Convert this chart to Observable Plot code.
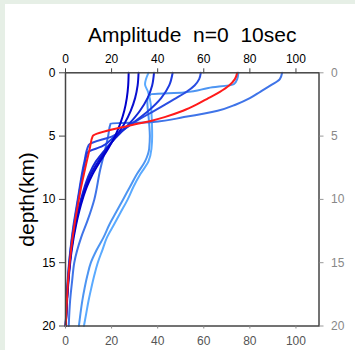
<!DOCTYPE html>
<html>
<head>
<meta charset="utf-8">
<script src="https://cdn.jsdelivr.net/npm/d3@7"></script>
<script src="https://cdn.jsdelivr.net/npm/@observablehq/plot@0.6"></script>
<style>
  html, body { margin: 0; padding: 0; background: #e6efe6; width: 355px; height: 350px; overflow: hidden; }
  #panel { position: absolute; left: 5px; top: 4px; width: 350px; height: 346px; background: #fff; }
  #panel svg { overflow: visible; }
</style>
</head>
<body>
<div id="panel"></div>
<script>
// ---- data (amplitude vs depth in km) ----
const titleText = "Amplitude  n=0  10sec";
const yLabel = "depth(km)";
const xTicks = [0, 20, 40, 60, 80, 100];
const yTicks = [0, 5, 10, 15, 20];

const dark1Depth = [0, 1, 2, 3, 4, 5, 6, 7, 8, 9, 10, 12, 14, 16, 18, 20];
const dark1Amp   = [27.4, 27.2, 26.6, 25.5, 23.8, 21.5, 18.5, 15, 11.8, 9.3, 7.4, 4.6, 2.7, 1.5, 0.7, 0.1];

const dark2Depth = [0, 1, 2, 3, 4, 5, 6, 7, 8, 9, 10, 12, 14, 16, 18, 20];
const dark2Amp   = [31.7, 31.3, 30.2, 28.3, 25.6, 22, 18, 14.2, 11, 8.8, 7, 4.3, 2.5, 1.4, 0.6, 0.1];

const blue3Depth = [0, 1, 2, 3, 4, 5, 6, 7, 8, 9, 10, 12, 14, 16, 18, 20];
const blue3Amp   = [38.4, 37.6, 35.6, 32.3, 27.8, 22.5, 17.5, 13.2, 10.3, 8.3, 6.7, 4.1, 2.4, 1.3, 0.6, 0.1];

const blue4Depth = [0, 1, 2, 3, 4, 5, 5.8, 6.3, 7, 8, 9, 10, 12, 14, 16, 18, 20];
const blue4Amp   = [46.5, 45, 41.5, 36, 29, 21.5, 16, 9.5, 8.5, 7.4, 6.4, 5.5, 3.7, 2.2, 1.2, 0.5, 0.1];

const blue5Depth = [0, 0.5, 1, 1.5, 2, 3, 4, 5, 5.7, 7, 8, 9, 10, 12, 14, 16, 18, 20];
const blue5Amp   = [58.7, 58, 56, 52.5, 48, 38.5, 29, 20.5, 10.1, 8.2, 7.1, 6.2, 5.3, 3.5, 2.1, 1.1, 0.5, 0.1];

const redDepth = [0, 0.5, 1, 1.5, 2, 2.5, 3, 3.5, 3.8, 4.2, 5, 6, 7, 8, 9.3, 10, 12, 14, 16, 18, 20];
const redAmp   = [74.5, 73.5, 71, 67, 62, 57, 51, 43, 37, 27, 11.8, 10.5, 9.2, 8, 6.5, 5.8, 3.9, 2.4, 1.3, 0.6, 0.1];

const midDepth = [0, 0.5, 1, 1.5, 2, 2.5, 3, 3.5, 3.9, 4.0, 5, 5.9, 7.7, 10, 11.7, 13, 15, 16.4, 18, 20];
const midAmp   = [94, 93, 89, 84.5, 80, 74, 66, 51.4, 37, 19.6, 18.5, 17.4, 15, 12.5, 9.5, 6.8, 3.8, 2.9, 2, 1.4];

const light1Depth = [0, 0.9, 1.5, 2.5, 4, 5, 6, 7, 8, 9, 10, 11, 12, 13, 14, 15, 16, 17, 18, 19, 20];
const light1Amp   = [36, 34.5, 35.8, 37, 37.5, 37.6, 37.3, 36, 32.5, 29.5, 27, 24, 21, 18, 16, 14, 12.5, 11.2, 10, 9, 8];

const light2Depth = [0, 0.5, 0.9, 1.2, 1.55, 1.7, 2.2, 4, 5, 6, 7, 8, 9, 10, 11, 12, 13, 14, 15, 16, 17, 18, 19, 20];
const light2Amp   = [75, 74.5, 73, 62, 51.4, 37, 35.5, 36.3, 36.6, 36.3, 34.5, 31, 28, 25, 22, 19, 16.5, 13.5, 11, 9.5, 8.3, 7.3, 6.5, 5.8];

const curveNames  = ["light2", "light1", "mid", "blue5", "blue4", "blue3", "dark2", "dark1", "red"];
const curveColors = ["#4d95f2", "#5aaaff", "#3f74e8", "#2a4ee2", "#1e3ce0", "#1428d8", "#0a10d0", "#0000cc", "#ff1a1a"];
const curveDepths = [light2Depth, light1Depth, midDepth, blue5Depth, blue4Depth, blue3Depth, dark2Depth, dark1Depth, redDepth];
const curveAmps   = [light2Amp, light1Amp, midAmp, blue5Amp, blue4Amp, blue3Amp, dark2Amp, dark1Amp, redAmp];

// build tidy rows
const rows = [];
curveNames.forEach((name, i) => {
  curveDepths[i].forEach((d, j) => rows.push({curve: name, depth: d, amp: curveAmps[i][j]}));
});

const font = "'Liberation Sans', Arial, Helvetica, sans-serif";

const chart = Plot.plot({
  width: 350,
  height: 346,
  marginLeft: 60,
  marginRight: 36.5,
  marginTop: 68.3,
  marginBottom: 24.5,
  style: {fontFamily: font, fontSize: "11px", color: "#000", background: "transparent", overflow: "visible"},
  x: {domain: [0, 110]},
  y: {domain: [0, 20], reverse: true},
  color: {domain: curveNames, range: curveColors},
  marks: [
    Plot.line(rows, {x: "amp", y: "depth", z: "curve", stroke: "curve", strokeWidth: 2, curve: "monotone-y"}),
    Plot.frame({stroke: "#444", strokeWidth: 1.5}),
    Plot.axisX({anchor: "top", ticks: xTicks, tickSize: 5, tickPadding: 5, label: null, stroke: "#444", fill: "#000", fontSize: 12}),
    Plot.axisX({anchor: "bottom", ticks: xTicks, tickSize: 3, tickPadding: 7, label: null, stroke: "#888", fill: "#555", fontSize: 12}),
    Plot.axisY({anchor: "left", ticks: yTicks, tickSize: 6, tickPadding: 4, label: null, stroke: "#444", fill: "#000", fontSize: 12}),
    Plot.axisY({anchor: "right", ticks: yTicks, tickSize: 4, tickPadding: 8, label: null, stroke: "#999", fill: "#888", fontSize: 12}),
    Plot.text([titleText], {frameAnchor: "top", dy: -31, text: d => d, fontSize: 21, fill: "#000", lineAnchor: "bottom"}),
    Plot.text([yLabel], {frameAnchor: "left", dx: -38, rotate: -90, textAnchor: "middle", text: d => d, fontSize: 21, fill: "#000"})
  ]
});
document.getElementById("panel").appendChild(chart);
</script>
</body>
</html>
